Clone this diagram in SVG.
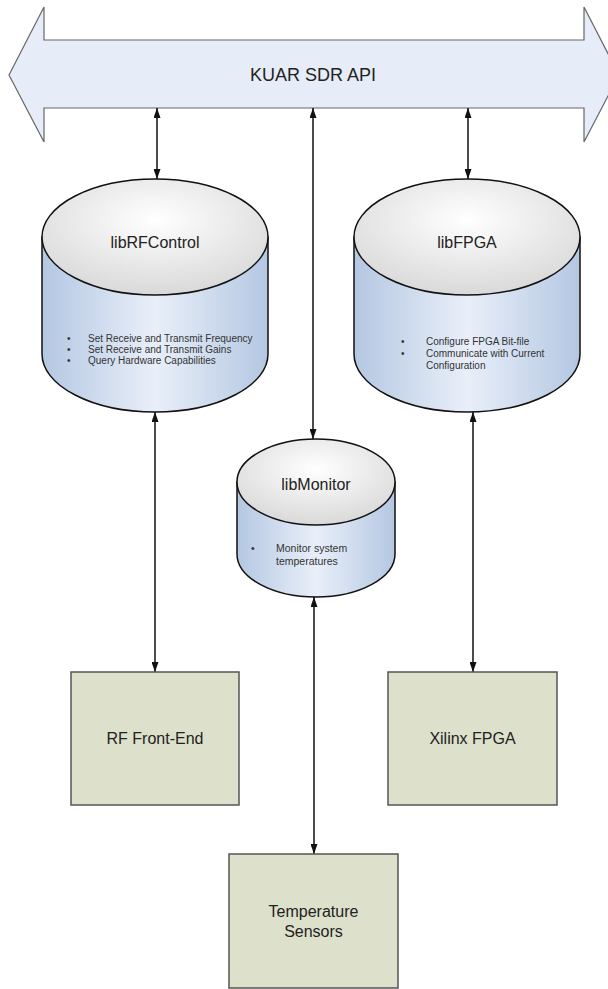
<svg xmlns="http://www.w3.org/2000/svg" width="608" height="989" viewBox="0 0 608 989">
  <defs>
    <linearGradient id="body" x1="0" y1="0" x2="1" y2="0">
      <stop offset="0" stop-color="#b4c7e2"/>
      <stop offset="0.5" stop-color="#e9eff9"/>
      <stop offset="1" stop-color="#b4c7e2"/>
    </linearGradient>
    <radialGradient id="lid" cx="0.5" cy="0.35" r="0.65">
      <stop offset="0" stop-color="#ffffff"/>
      <stop offset="1" stop-color="#d9d9d9"/>
    </radialGradient>
    <marker id="head" viewBox="0 0 10 7" refX="10" refY="3.5" markerWidth="10" markerHeight="7" markerUnits="userSpaceOnUse" orient="auto-start-reverse">
      <path d="M0,0 L10,3.5 L0,7 Z" fill="#111"/>
    </marker>
  </defs>
  <style>
    .label { font-family: "Liberation Sans", Arial, sans-serif; fill: #222; text-anchor: middle; }
    .big { font-size: 16px; }
    .bullet { font-family: "Liberation Sans", Arial, sans-serif; font-size: 10px; fill: #333; }
    .side { fill: url(#body); stroke: #111; stroke-width: 1.5; }
    .top { fill: url(#lid); stroke: #111; stroke-width: 1.5; }
    .box { fill: #dde0ca; stroke: #555; stroke-width: 1.5; }
    .link { stroke: #111; stroke-width: 1.5; fill: none; marker-start: url(#head); marker-end: url(#head); }
  </style>
  <rect width="608" height="989" fill="#ffffff"/>

  <!-- API bus: double-headed block arrow -->
  <g id="api">
    <polygon points="9,75 44,7 44,40 584,40 584,7 619,75 584,142 584,108 44,108 44,142" fill="#e6edf8" stroke="#666" stroke-width="1.2"/>
    <text class="label" x="313" y="81" font-size="18">KUAR SDR API</text>
  </g>

  <!-- connectors -->
  <g id="connectors">
    <line class="link" x1="157" y1="108" x2="157" y2="179"/>
    <line class="link" x1="468" y1="108" x2="468" y2="179"/>
    <line class="link" x1="313" y1="108" x2="313" y2="439"/>
    <line class="link" x1="155" y1="412" x2="155" y2="672"/>
    <line class="link" x1="473" y1="412" x2="473" y2="672"/>
    <line class="link" x1="314" y1="597" x2="314" y2="854"/>
  </g>

  <g id="libRFControl">
    <path class="side" d="M42,237 L42,354 A113,58 0 0 0 268,354 L268,237 Z"/>
    <ellipse class="top" cx="155" cy="237" rx="113" ry="58"/>
    <text class="label big" x="155" y="248">libRFControl</text>
    <g class="bullet">
      <text x="67" y="342">•</text><text x="88" y="342">Set Receive and Transmit Frequency</text>
      <text x="67" y="353">•</text><text x="88" y="353">Set Receive and Transmit Gains</text>
      <text x="67" y="364">•</text><text x="88" y="364">Query Hardware Capabilities</text>
    </g>
  </g>

  <g id="libFPGA">
    <path class="side" d="M354,237 L354,354 A113,58 0 0 0 580,354 L580,237 Z"/>
    <ellipse class="top" cx="467" cy="237" rx="113" ry="58"/>
    <text class="label big" x="467" y="248">libFPGA</text>
    <g class="bullet">
      <text x="401" y="345">•</text><text x="426" y="345">Configure FPGA Bit-file</text>
      <text x="401" y="357">•</text><text x="426" y="357">Communicate with Current</text>
      <text x="426" y="369">Configuration</text>
    </g>
  </g>

  <g id="libMonitor">
    <path class="side" d="M237,482 L237,554 A79,43 0 0 0 395,554 L395,482 Z"/>
    <ellipse class="top" cx="316" cy="482" rx="79" ry="43"/>
    <text class="label big" x="316" y="490">libMonitor</text>
    <g class="bullet">
      <text x="251" y="552" font-size="10.5">•</text><text x="276" y="552" font-size="10.5">Monitor system</text>
      <text x="276" y="565" font-size="10.5">temperatures</text>
    </g>
  </g>

  <g id="rf-front-end">
    <rect class="box" x="71" y="672" width="168" height="133"/>
    <text class="label big" x="155" y="744">RF Front-End</text>
  </g>

  <g id="xilinx-fpga">
    <rect class="box" x="388" y="672" width="169" height="133"/>
    <text class="label big" x="472.5" y="744">Xilinx FPGA</text>
  </g>

  <g id="temperature-sensors">
    <rect class="box" x="229" y="854" width="169" height="134"/>
    <text class="label big" x="313.5" y="917">Temperature</text>
    <text class="label big" x="313.5" y="937">Sensors</text>
  </g>
</svg>
